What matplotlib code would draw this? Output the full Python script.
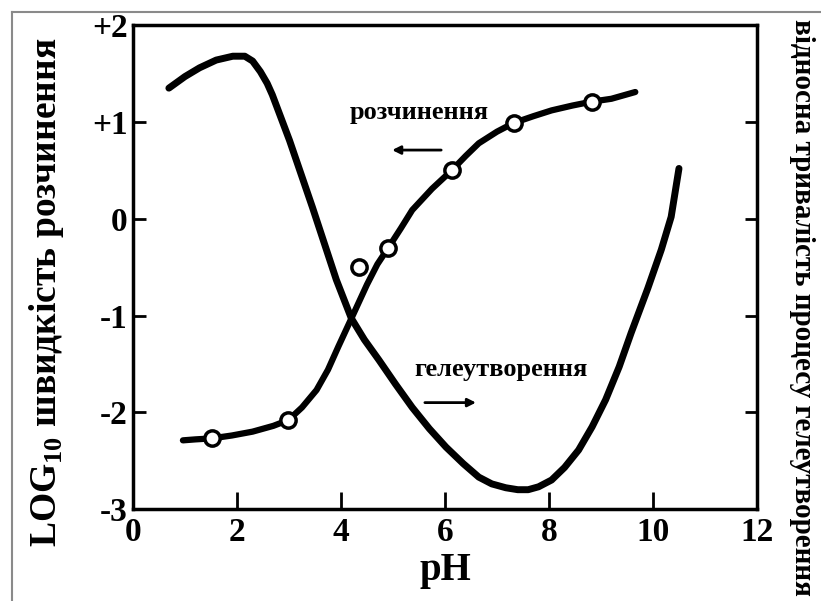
import matplotlib
matplotlib.use("Agg")
import matplotlib.pyplot as plt
from matplotlib.lines import Line2D

plt.rcParams['font.family'] = ['Liberation Serif', 'DejaVu Serif']
plt.rcParams['font.weight'] = 'bold'
plt.rcParams['axes.labelweight'] = 'bold'
plt.rcParams['axes.unicode_minus'] = False
plt.rcParams['mathtext.fontset'] = 'custom'
plt.rcParams['mathtext.rm'] = 'Liberation Serif:bold'
plt.rcParams['mathtext.bf'] = 'Liberation Serif:bold'

# dissolution rate curve (log10)
diss_ph = [0.96, 1.2, 1.51, 1.9, 2.3, 2.7, 2.99, 3.25, 3.53, 3.75, 3.95, 4.2, 4.5, 4.7, 4.91,
           5.15, 5.37, 5.75, 6.13, 6.4, 6.65, 7.0, 7.32, 7.7, 8.05, 8.45, 8.82, 9.2, 9.66]
diss_val = [-2.29, -2.28, -2.27, -2.24, -2.20, -2.14, -2.08, -1.95, -1.77, -1.56, -1.32, -1.03,
            -0.68, -0.47, -0.30, -0.10, 0.09, 0.31, 0.50, 0.65, 0.78, 0.90, 0.99, 1.06, 1.12,
            1.17, 1.21, 1.24, 1.31]
# measured points (open circles)
pts_ph = [1.51, 2.99, 4.35, 4.91, 6.13, 7.32, 8.82]
pts_val = [-2.27, -2.08, -0.50, -0.30, 0.50, 0.99, 1.21]

# relative gelation time curve
gel_ph = [0.69, 1.0, 1.28, 1.6, 1.92, 2.15, 2.3, 2.45, 2.58, 2.68, 3.01, 3.45, 3.91, 4.20,
          4.45, 4.73, 5.05, 5.37, 5.7, 6.02, 6.35, 6.65, 6.9, 7.17, 7.4, 7.6, 7.8, 8.05, 8.3,
          8.57, 8.83, 9.09, 9.35, 9.58, 9.9, 10.16, 10.35, 10.50]
gel_val = [1.35, 1.47, 1.56, 1.64, 1.68, 1.68, 1.63, 1.52, 1.40, 1.28, 0.81, 0.12, -0.63, -1.03,
           -1.25, -1.46, -1.71, -1.95, -2.17, -2.36, -2.53, -2.67, -2.74, -2.78, -2.80, -2.80,
           -2.77, -2.70, -2.57, -2.39, -2.15, -1.87, -1.53, -1.18, -0.72, -0.32, 0.02, 0.52]

xticks = [0, 2, 4, 6, 8, 10, 12]
yticks = [-3, -2, -1, 0, 1, 2]
ytick_labels = ['-3', '-2', '-1', '0', '+1', '+2']

fig = plt.figure(figsize=(8.21, 6.01), dpi=100)
ax = fig.add_axes([0.162, 0.153, 0.760, 0.805])

ax.plot(gel_ph, gel_val, color='black', lw=5, solid_capstyle='round', solid_joinstyle='round')
ax.plot(diss_ph, diss_val, color='black', lw=4.5, solid_capstyle='round', solid_joinstyle='round')
ax.plot(pts_ph, pts_val, 'o', ms=11, mfc='white', mec='black', mew=2.5)

ax.set_xlim(0, 12)
ax.set_ylim(-3, 2)
ax.set_xticks(xticks)
ax.set_yticks(yticks)
ax.set_yticklabels(ytick_labels)
ax.tick_params(axis='both', direction='in', labelsize=24, width=2, pad=4)
ax.tick_params(axis='x', length=12, pad=5.5)
ax.tick_params(axis='y', length=9, right=True)
for s in ax.spines.values():
    s.set_linewidth(2.5)
ax.set_xlabel('pH', fontsize=28, fontweight='bold', labelpad=3)

ax.text(5.5, 1.10, 'розчинення', fontsize=19, ha='center', va='center')
ax.annotate('', xy=(4.93, 0.71), xytext=(5.98, 0.71),
            arrowprops=dict(arrowstyle='-|>', color='black', lw=2, mutation_scale=12))
ax.text(7.07, -1.56, 'гелеутворення', fontsize=19, ha='center', va='center')
ax.annotate('', xy=(6.65, -1.90), xytext=(5.56, -1.90),
            arrowprops=dict(arrowstyle='-|>', color='black', lw=2, mutation_scale=12))

fig.text(0.057, 0.514, r'LOG$_{10}$ швидкість розчинення', rotation=90,
         fontsize=27, ha='center', va='center')
fig.text(0.978, 0.489, 'відносна тривалість процесу гелеутворення', rotation=-90,
         fontsize=21, ha='center', va='center')

# grey frame of the scanned figure
fig.add_artist(Line2D([12 / 821, 12 / 821], [0, 1 - 12 / 601], color='#8a8a8a', lw=1.5))
fig.add_artist(Line2D([12 / 821, 1], [1 - 12 / 601, 1 - 12 / 601], color='#8a8a8a', lw=1.5))

fig.savefig('out.png', dpi=100)
